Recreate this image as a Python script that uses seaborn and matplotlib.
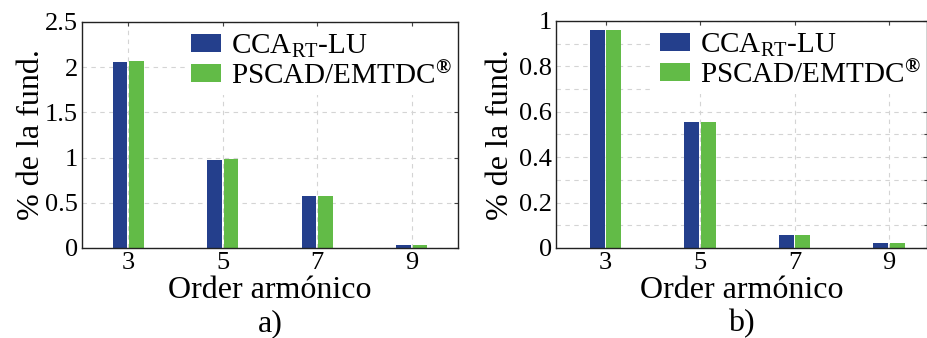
import matplotlib
matplotlib.use("Agg")
import matplotlib.pyplot as plt
import seaborn as sns
import pandas as pd
import numpy as np
from matplotlib.ticker import MultipleLocator

# ---- data ----
orders = ["3", "5", "7", "9"]
series_names = [r"CCA$_{\mathrm{RT}}$-LU", r"PSCAD/EMTDC$^{\mathbf{®}}$"]
a_cca = [2.06, 0.977, 0.575, 0.038]
a_pscad = [2.068, 0.98, 0.575, 0.038]
b_cca = [0.962, 0.555, 0.059, 0.022]
b_pscad = [0.962, 0.555, 0.059, 0.023]
colors = ["#243F8C", "#62BB47"]
xlabel = "Order armónico"
ylabel = "% de la fund."
panel_labels = ["a)", "b)"]

sns.set_theme(style="white")
plt.rcParams["font.family"] = ["Liberation Serif", "DejaVu Serif"]
plt.rcParams["mathtext.fontset"] = "custom"
plt.rcParams["mathtext.rm"] = "Liberation Serif"
plt.rcParams["mathtext.it"] = "Liberation Serif:italic"
plt.rcParams["mathtext.bf"] = "Liberation Serif:bold"
plt.rcParams["text.color"] = "black"
plt.rcParams["axes.labelcolor"] = "black"
plt.rcParams["xtick.labelcolor"] = "black"
plt.rcParams["ytick.labelcolor"] = "black"


def make_df(v1, v2):
    return pd.DataFrame({
        "order": orders * 2,
        "value": list(v1) + list(v2),
        "series": [series_names[0]] * len(orders) + [series_names[1]] * len(orders),
    })


fig = plt.figure(figsize=(9.28, 3.38), dpi=100)
ax_a = fig.add_axes([82 / 928, 1 - 248 / 338, (458 - 82) / 928, (248 - 22) / 338])
ax_b = fig.add_axes([556 / 928, 1 - 248 / 338, (927 - 556) / 928, (248 - 21) / 338])

configs = [
    (ax_a, make_df(a_cca, a_pscad), (0, 2.5), 0.5, None, (-0.49, 3.49), panel_labels[0], -1),
    (ax_b, make_df(b_cca, b_pscad), (0, 1.0), 0.2, 0.1, (-0.525, 3.4), panel_labels[1], 3),
]

for ax, df, ylim, major, minor, xlim, plabel, ylpad in configs:
    sns.barplot(data=df, x="order", y="value", hue="series", palette=colors,
                width=0.35, gap=0.1, saturation=1, ax=ax, errorbar=None,
                linewidth=0, zorder=3)
    ax.set_ylim(*ylim)
    ax.set_xlim(*xlim)
    ax.yaxis.set_major_locator(MultipleLocator(major))
    if minor:
        ax.yaxis.set_minor_locator(MultipleLocator(minor))
    ax.yaxis.set_major_formatter(matplotlib.ticker.FuncFormatter(lambda v, p: f"{v:g}"))
    ax.grid(True, which="both", linestyle=(0, (4, 4)), color="#d4d4d4", linewidth=0.8, zorder=0)
    ax.set_axisbelow(True)
    for s in ax.spines.values():
        s.set_color("#222222")
        s.set_linewidth(1.0)
        s.set_visible(True)
        s.set_zorder(10)
    ax.tick_params(axis="both", which="both", direction="in", top=True, right=True,
                   length=3, width=0.8, color="#444444", labelsize=19, pad=3)
    ax.tick_params(axis="y", which="minor", length=2)
    ax.set_xlabel(xlabel, fontsize=23, labelpad=1)
    ax.set_ylabel(ylabel, fontsize=23, labelpad=ylpad)
    ax.text(0.5, -0.27, plabel, transform=ax.transAxes, ha="center", va="top", fontsize=23)
    leg = ax.legend(loc="upper right", bbox_to_anchor=(1.0, 0.98), fontsize=21,
                    frameon=True, facecolor="white", edgecolor="none", framealpha=1,
                    handlelength=1.05, handleheight=0.55, handletextpad=0.35,
                    labelspacing=0.05, borderpad=0.2, borderaxespad=0.0, fancybox=False)

fig.savefig("out.png", dpi=100)
